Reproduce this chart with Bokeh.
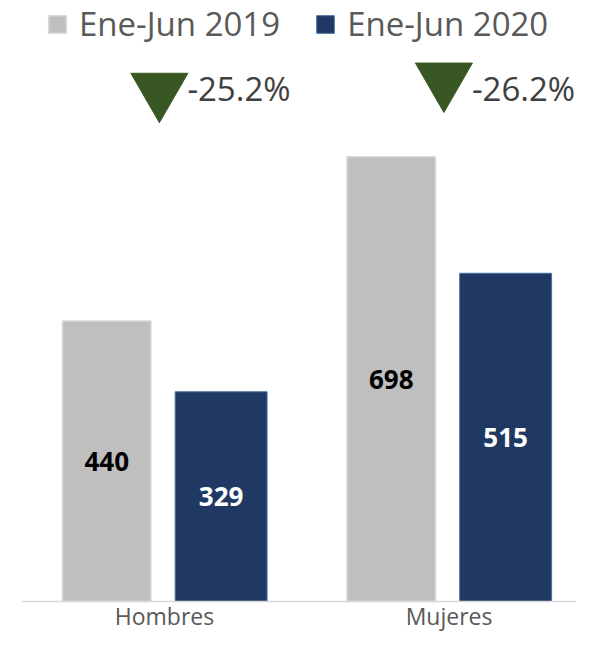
from bokeh.plotting import figure
from bokeh.models import ColumnDataSource, Range1d, Legend, LegendItem, Span
from bokeh.transform import dodge
from bokeh.core.properties import value
from bokeh.embed import file_html
from bokeh.resources import INLINE

# ---- data ----
categories = ["Hombres", "Mujeres"]
series_names = ["Ene-Jun 2019", "Ene-Jun 2020"]
values_2019 = [440, 698]
values_2020 = [329, 515]
change_labels = ["-25.2%", "-26.2%"]

# ---- layout constants (positions in data units) ----
tri_y = [803, 819]
pct_y = [805, 805]
cat_label_y = -22.0

FONT = "Open Sans"
GRAY = "#bfbfbf"
NAVY = "#203864"
GREEN = "#385723"

n = len(categories)
src = ColumnDataSource(dict(
    xi=list(range(n)),
    cat=categories,
    v19=values_2019,
    v20=values_2020,
    m19=[v / 2 for v in values_2019],
    m20=[v / 2 for v in values_2020],
    l19=[str(v) for v in values_2019],
    l20=[str(v) for v in values_2020],
    pct=change_labels,
    tri_y=tri_y,
    pct_y=pct_y,
    cy=[cat_label_y] * n,
))

p = figure(
    x_range=Range1d(-0.5026, 1.448),
    y_range=Range1d(-50.2, 943),
    width=576, height=633,
    output_backend="svg", toolbar_location=None,
    min_border_left=21, min_border_right=0,
    min_border_top=0, min_border_bottom=0,
)

off19, off20, offt = -0.203, 0.199, -0.018

r19 = p.vbar(x=dodge("xi", off19), top="v19", width=0.311,
             source=src, fill_color=GRAY, line_color="#d9d9d9", line_width=1.5)
r20 = p.vbar(x=dodge("xi", off20), top="v20", width=0.323,
             source=src, fill_color=NAVY, line_color="#41719c", line_width=1)

# category axis line at zero
p.add_layout(Span(location=0, dimension="width", line_color="#d9d9d9", line_width=1.5))

p.text(x=dodge("xi", off19), y="m19", text="l19", source=src,
       text_align="center", text_baseline="middle", text_font=value(FONT),
       text_font_style="bold", text_font_size="26px", text_color="black")
p.text(x=dodge("xi", off20), y="m20", text="l20", source=src,
       text_align="center", text_baseline="middle", text_font=value(FONT),
       text_font_style="bold", text_font_size="26px", text_color="white")

p.scatter(x=dodge("xi", offt), y="tri_y", source=src,
          marker="inverted_triangle", size=57, fill_color=GREEN, line_color=GREEN)
p.text(x=dodge("xi", offt), y="pct_y", text="pct", source=src,
       x_offset=28, text_align="left", text_baseline="middle",
       text_font=value(FONT), text_font_size="33px", text_color="#404040")

# category labels
p.text(x="xi", y="cy", text="cat", source=src,
       text_align="center", text_baseline="middle",
       text_font=value(FONT), text_font_size="23px", text_color="#595959")

legend = Legend(
    items=[LegendItem(label=series_names[0], renderers=[r19]),
           LegendItem(label=series_names[1], renderers=[r20])],
    orientation="horizontal", location=(25, 587),
    padding=0, margin=0, spacing=34, label_standoff=11,
    glyph_width=22, glyph_height=22,
    label_text_font=FONT, label_text_font_size="33px", label_text_color="#595959",
    border_line_color=None, background_fill_alpha=0,
)
p.add_layout(legend)

p.xaxis.visible = False
p.yaxis.visible = False
p.xgrid.visible = False
p.ygrid.visible = False
p.outline_line_color = None

open("out.html", "w").write(file_html(p, INLINE))
